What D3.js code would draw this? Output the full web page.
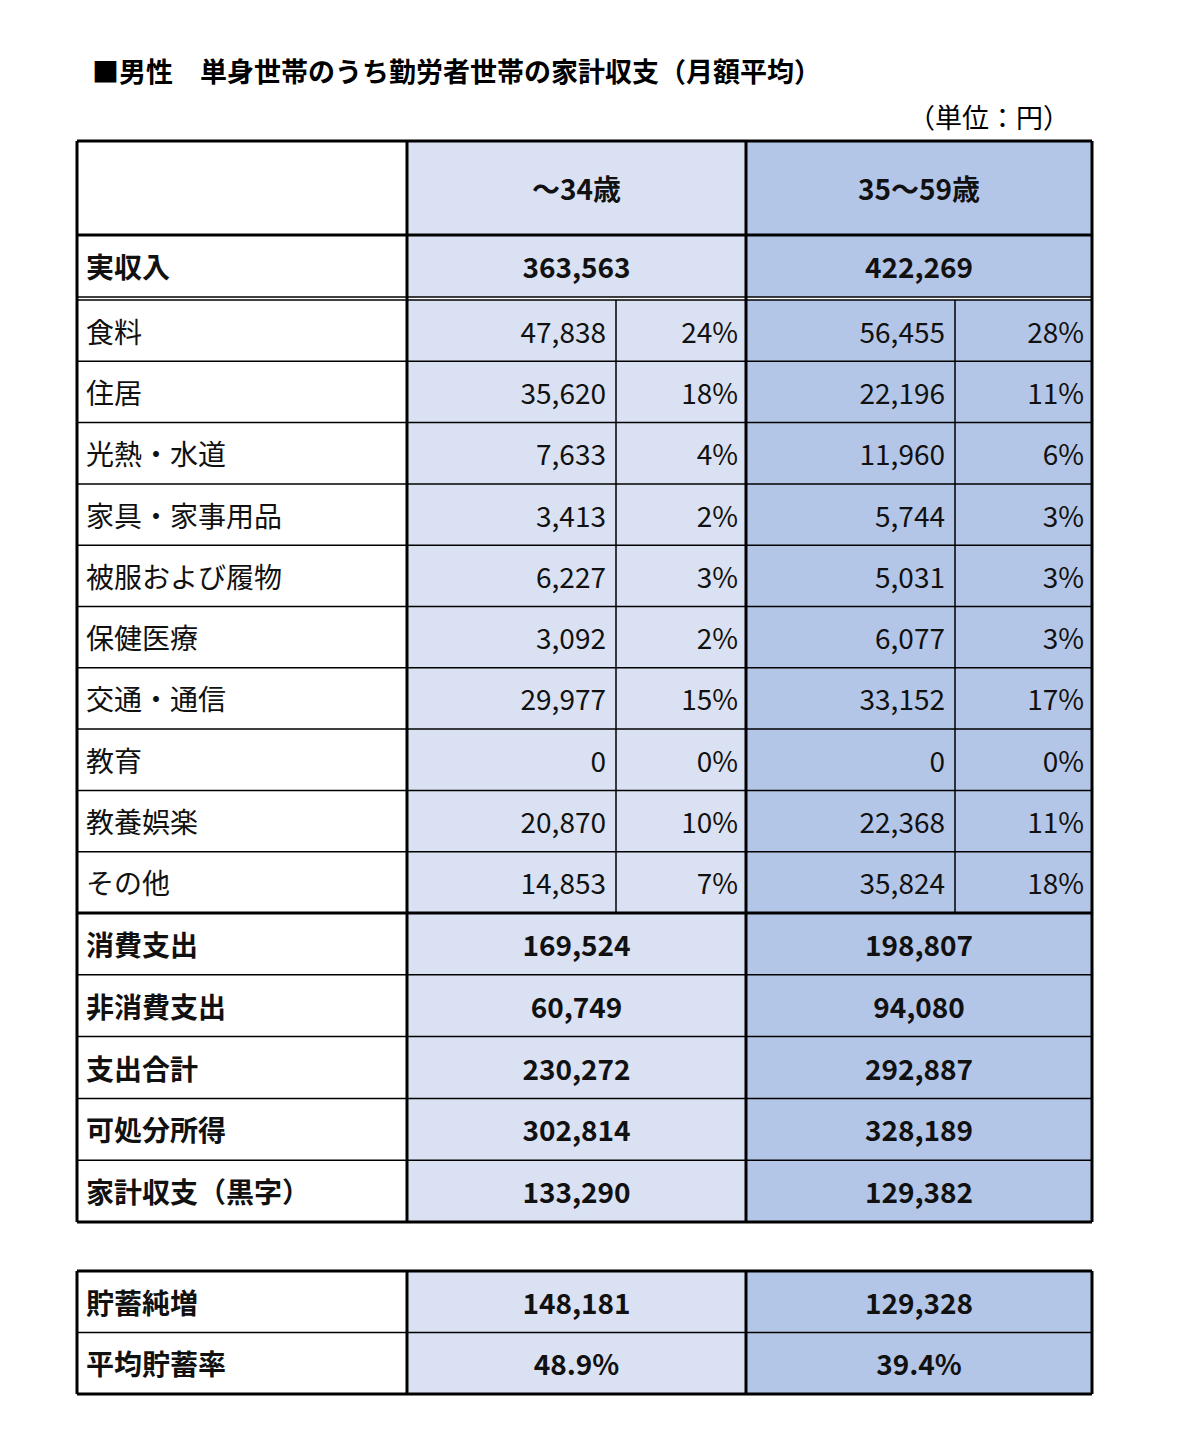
<!DOCTYPE html><html><head><meta charset="utf-8"><script src="https://cdn.jsdelivr.net/npm/d3@7"></script>
<style>body{margin:0;background:#fff}</style></head><body><svg id="c" width="1200" height="1440"></svg><script>
const title="■男性　単身世帯のうち勤労者世帯の家計収支（月額平均）";
const unit="（単位：円）";
const groups=["～34歳","35～59歳"];
const incomeLabel="実収入";const income=["363,563","422,269"];
const items=["食料","住居","光熱・水道","家具・家事用品","被服および履物","保健医療","交通・通信","教育","教養娯楽","その他"];
const val1=["47,838","35,620","7,633","3,413","6,227","3,092","29,977","0","20,870","14,853"];
const pct1=["24%","18%","4%","2%","3%","2%","15%","0%","10%","7%"];
const val2=["56,455","22,196","11,960","5,744","5,031","6,077","33,152","0","22,368","35,824"];
const pct2=["28%","11%","6%","3%","3%","3%","17%","0%","11%","18%"];
const sumLabels=["消費支出","非消費支出","支出合計","可処分所得","家計収支（黒字）"];
const sum1=["169,524","60,749","230,272","302,814","133,290"];
const sum2=["198,807","94,080","292,887","328,189","129,382"];
const savLabels=["貯蓄純増","平均貯蓄率"];
const sav1=["148,181","48.9%"];const sav2=["129,328","39.4%"];

const svg=d3.select("#c"),F="'Noto Sans CJK JP',sans-serif";
const x=d3.scaleLinear().domain([0,1]).range([0,1]);
const X0=77,X1=407,XS1=616,X2=746,XS2=955,X3=1092;
const C1="#dae1f3",C2="#b4c6e7";
svg.append("text").attr("x",92).attr("y",82).attr("font-family",F).attr("font-weight",700).attr("font-size",27).text(title);
svg.append("text").attr("x",1070).attr("y",128).attr("text-anchor","end").attr("font-family",F).attr("font-size",27).text(unit);
const y=d3.scaleLinear().domain([0,1]).range([0,1]);
function cell(x0,x1,y0,y1,fill){svg.append("rect").attr("x",x0).attr("y",y0).attr("width",x1-x0).attr("height",y1-y0).attr("fill",fill);}
function txt(s,xx,yy,anchor,bold){svg.append("text").attr("x",xx).attr("y",yy).attr("text-anchor",anchor).attr("dominant-baseline","central").attr("font-family",F).attr("font-weight",bold?700:400).attr("font-size",28).attr("fill","#111").text(s);}
function line(x0,y0,x1,y1,w){svg.append("line").attr("x1",x0).attr("y1",y0).attr("x2",x1).attr("y2",y1).attr("stroke","#000").attr("stroke-width",w);}
// header
const H0=141,H1=235,I1=297,R0=300,RH=61.3;
cell(X1,X2,H0,I1,C1);cell(X2,X3,H0,I1,C2);
txt(groups[0],(X1+X2)/2,H0+47,"middle",true);txt(groups[1],(X2+X3)/2,H0+47,"middle",true);
txt(incomeLabel,86,(H1+I1)/2,"start",true);txt(income[0],(X1+X2)/2,(H1+I1)/2,"middle",true);txt(income[1],(X2+X3)/2,(H1+I1)/2,"middle",true);
const rY=d3.scaleLinear().domain([0,items.length]).range([R0,R0+RH*items.length]);
cell(X1,X2,R0,rY(items.length),C1);cell(X2,X3,R0,rY(items.length),C2);
items.forEach((d,i)=>{const cy=(rY(i)+rY(i+1))/2;
 txt(d,86,cy,"start",false);txt(val1[i],XS1-10,cy,"end");txt(pct1[i],X2-8,cy,"end");
 txt(val2[i],XS2-10,cy,"end");txt(pct2[i],X3-8,cy,"end");
 if(i>0)line(X0,rY(i),X3,rY(i),1.5);});
const S0=rY(items.length);
const sY=d3.scaleLinear().domain([0,sumLabels.length]).range([S0,1222]);
cell(X1,X2,S0,1222,C1);cell(X2,X3,S0,1222,C2);
sumLabels.forEach((d,i)=>{const cy=(sY(i)+sY(i+1))/2;
 txt(d,86,cy,"start",true);txt(sum1[i],(X1+X2)/2,cy,"middle",true);txt(sum2[i],(X2+X3)/2,cy,"middle",true);
 if(i>0)line(X0,sY(i),X3,sY(i),1.5);});
// lines main table
line(X0,H0,X3,H0,3);line(X0,H1,X3,H1,3);line(X0,I1,X3,I1,1.5);line(X0,R0,X3,R0,1.5);line(X0,S0,X3,S0,3);line(X0,1222,X3,1222,3);
line(X0,H0,X0,1222,3);line(X1,H0,X1,1222,3);line(X2,H0,X2,1222,3);line(X3,H0,X3,1222,3);
line(XS1,R0,XS1,S0,1.5);line(XS2,R0,XS2,S0,1.5);
// savings
const vY=d3.scaleLinear().domain([0,2]).range([1271,1394]);
cell(X1,X2,1271,1394,C1);cell(X2,X3,1271,1394,C2);
savLabels.forEach((d,i)=>{const cy=(vY(i)+vY(i+1))/2;
 txt(d,86,cy,"start",true);txt(sav1[i],(X1+X2)/2,cy,"middle",true);txt(sav2[i],(X2+X3)/2,cy,"middle",true);});
line(X0,1271,X3,1271,3);line(X0,vY(1),X3,vY(1),1.5);line(X0,1394,X3,1394,3);
[X0,X1,X2,X3].forEach(xx=>line(xx,1271,xx,1394,3));
</script></body></html>
